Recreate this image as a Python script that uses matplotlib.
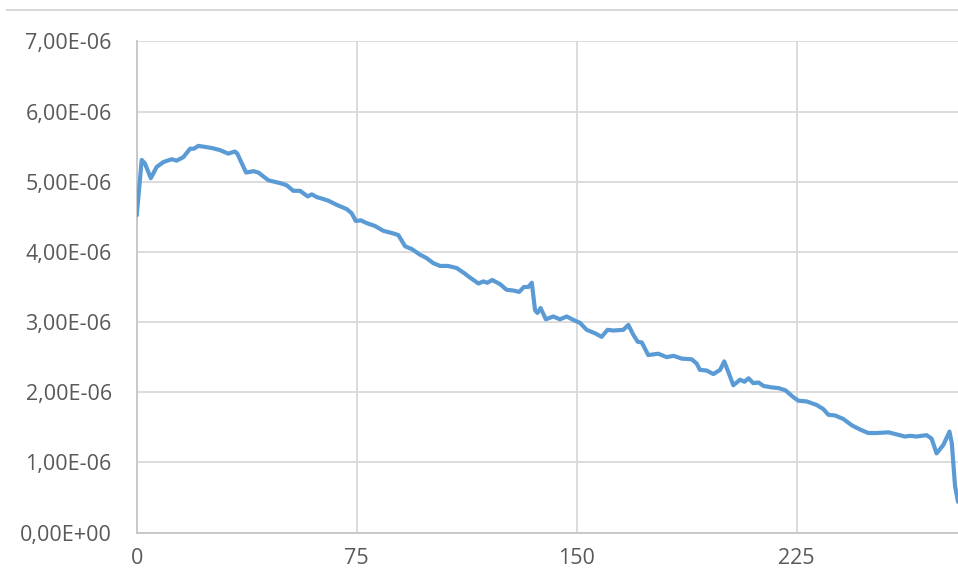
import matplotlib.pyplot as plt
from matplotlib.lines import Line2D
from matplotlib.ticker import FuncFormatter, MultipleLocator

# sample index and measured value (units of 1e-6)
x_vals = [
    0, 1.7, 2.8, 4.8, 6.8, 9.1, 11.9, 13.6, 15.9, 18.2, 19.5, 21.0, 22.7,
    25.6, 28.4, 31.2, 33.5, 34.3, 37.3, 39.8, 41.5, 44.9, 48.9, 51.1, 53.4,
    55.7, 58.3, 59.7, 61.4, 63.1, 65.3, 68.2, 71.6, 73.3, 74.7, 76.4, 78.4,
    81.2, 84.1, 86.9, 89.2, 91.5, 93.8, 96.6, 98.9, 101.1, 103.4, 106.2,
    109.1, 111.9, 113.1, 116.5, 118.2, 119.5, 121.2, 123.9, 126.1, 128.4,
    130.4, 132.0, 133.5, 134.7, 135.8, 136.6, 137.7, 139.5, 142.0, 144.3,
    146.6, 148.9, 151.1, 153.4, 156.3, 158.5, 160.5, 162.5, 165.9, 167.6,
    169.3, 170.8, 172.2, 174.4, 177.8, 180.7, 183.0, 185.8, 189.2, 190.9,
    192.0, 194.3, 196.6, 198.9, 200.3, 201.7, 203.4, 205.7, 207.2, 208.6,
    210.2, 212.0, 213.7, 216.5, 218.8, 221.1, 223.9, 225.6, 228.4, 231.8,
    234.1, 235.8, 238.1, 240.9, 243.8, 246.6, 249.4, 252.3, 256.3, 259.1,
    261.9, 263.7, 265.9, 269.3, 271.0, 272.7, 275.0, 277.1, 277.9, 279.0,
    280.0,
]
y_vals = [
    4.52, 5.31, 5.26, 5.05, 5.21, 5.28, 5.32, 5.30, 5.35, 5.47, 5.47, 5.51,
    5.50, 5.48, 5.45, 5.40, 5.43, 5.40, 5.13, 5.15, 5.13, 5.02, 4.98, 4.95,
    4.87, 4.87, 4.79, 4.82, 4.78, 4.76, 4.73, 4.67, 4.61, 4.55, 4.44, 4.45,
    4.41, 4.37, 4.30, 4.27, 4.24, 4.08, 4.04, 3.96, 3.91, 3.84, 3.80, 3.80,
    3.77, 3.69, 3.65, 3.55, 3.58, 3.56, 3.60, 3.54, 3.46, 3.45, 3.43, 3.50,
    3.50, 3.56, 3.17, 3.13, 3.20, 3.04, 3.08, 3.04, 3.08, 3.03, 2.99, 2.89,
    2.84, 2.79, 2.89, 2.88, 2.89, 2.96, 2.82, 2.72, 2.71, 2.53, 2.55, 2.50,
    2.52, 2.48, 2.47, 2.41, 2.32, 2.31, 2.26, 2.32, 2.44, 2.29, 2.10, 2.18,
    2.15, 2.20, 2.13, 2.14, 2.09, 2.07, 2.06, 2.03, 1.93, 1.88, 1.87, 1.82,
    1.76, 1.68, 1.67, 1.62, 1.53, 1.47, 1.42, 1.42, 1.43, 1.40, 1.37, 1.38,
    1.37, 1.39, 1.34, 1.13, 1.25, 1.44, 1.27, 0.66, 0.44,
]
y_vals = [v * 1e-6 for v in y_vals]

x_ticks = [0, 75, 150, 225]

grid_color = "#d9d9d9"
text_color = "#595959"
plt.rcParams["font.family"] = ["Open Sans", "DejaVu Sans"]

fig = plt.figure(figsize=(9.58, 5.69), dpi=100)
ax = fig.add_axes([0.1427, 0.0638, 0.8573, 0.8636])

ax.plot(x_vals, y_vals, color="#5b9bd5", lw=3.0, solid_joinstyle="round",
        solid_capstyle="round", zorder=3)

ax.set_xlim(0, 280)
ax.set_ylim(0, 7e-6)
ax.set_xticks(x_ticks)
ax.yaxis.set_major_locator(MultipleLocator(1e-6))
ax.yaxis.set_major_formatter(
    FuncFormatter(lambda v, _: f"{v:.2E}".replace(".", ","))
)

ax.grid(True, color=grid_color, lw=1.3)
ax.set_axisbelow(True)
for side in ("top", "right"):
    ax.spines[side].set_visible(False)
for side in ("left", "bottom"):
    ax.spines[side].set_color("#c6c6c6")
    ax.spines[side].set_linewidth(1.3)

ax.tick_params(length=0, labelsize=15.5, labelcolor=text_color)
ax.tick_params(axis="y", pad=18)
ax.tick_params(axis="x", pad=11)

# thin border across the top of the chart area
fig.add_artist(Line2D([7 / 958, 1.0], [1 - 10 / 569, 1 - 10 / 569],
                      transform=fig.transFigure, color=grid_color, lw=1.5))

fig.savefig("out.png", dpi=100)
